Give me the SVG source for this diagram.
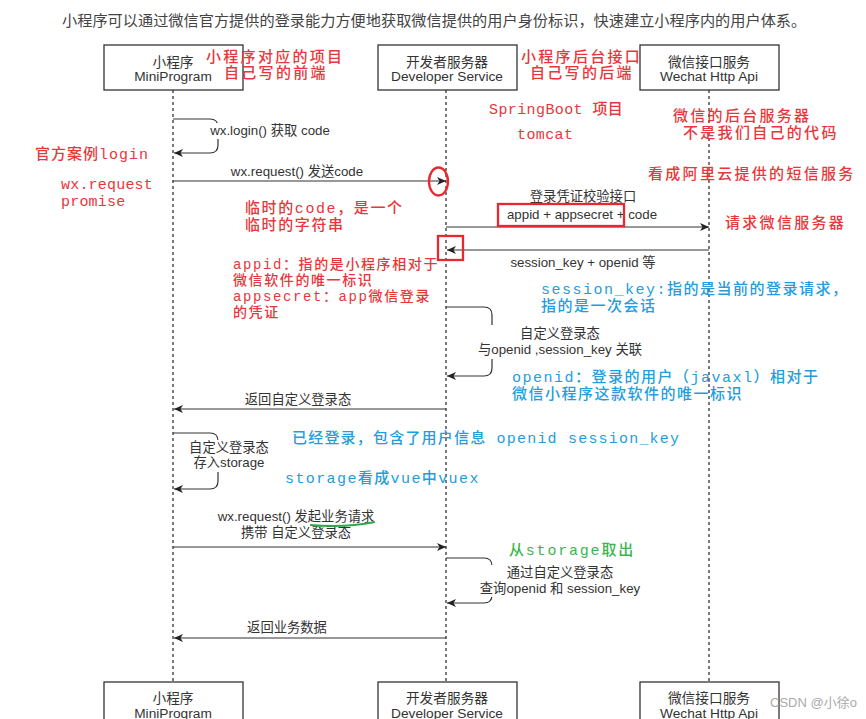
<svg xmlns="http://www.w3.org/2000/svg" width="866" height="719" viewBox="0 0 866 719">
<defs>
<marker id="arr" markerUnits="userSpaceOnUse" markerWidth="10" markerHeight="8" refX="9" refY="4" orient="auto">
<path d="M0,0 L9,4 L0,8 L2.5,4 z" fill="#222"/>
</marker>
<style>
.box{fill:#fff;stroke:#333;stroke-width:1.3}
.bt{font-family:"Liberation Sans","Noto Sans CJK SC",sans-serif;font-size:13.7px;fill:#333;text-anchor:middle}
.life{stroke:#222;stroke-width:1.2;stroke-dasharray:3,3;fill:none}
.msg{stroke:#333;stroke-width:1.2;fill:none;marker-end:url(#arr)}
.lbl{font-family:"Liberation Sans","Noto Sans CJK SC",sans-serif;font-size:13.3px;fill:#333;text-anchor:middle}
.bg{fill:#fff}
.ann{font-family:"Liberation Mono","Noto Sans CJK SC",monospace;font-size:15px;letter-spacing:2.3px;font-weight:500}
.sm{font-size:14px;letter-spacing:1.6px}
.red{fill:#e8373c}
.blue{fill:#249ddc}
.green{fill:#3cb550}
.mark{fill:none;stroke:#e8282e;stroke-width:2.3}
</style>
</defs>
<rect width="866" height="719" fill="#fff"/>
<text x="62" y="26" font-family="'Noto Sans CJK SC',sans-serif" font-size="15.2" fill="#444">小程序可以通过微信官方提供的登录能力方便地获取微信提供的用户身份标识，快速建立小程序内的用户体系。</text>

<g id="lifelines">
<line class="life" x1="173" y1="90" x2="173" y2="682"/>
<line class="life" x1="446" y1="90" x2="446" y2="682"/>
<line class="life" x1="709" y1="90" x2="709" y2="682"/>
</g>

<g id="node-mini-top"><rect class="box" x="104" y="45" width="139" height="45"/><text class="bt"><tspan x="173" y="66.5">小程序</tspan><tspan x="173" y="80.5">MiniProgram</tspan></text></g>
<g id="node-dev-top"><rect class="box" x="378" y="45" width="139" height="45"/><text class="bt"><tspan x="447" y="66.5">开发者服务器</tspan><tspan x="447" y="80.5">Developer Service</tspan></text></g>
<g id="node-wx-top"><rect class="box" x="640" y="45" width="139" height="45"/><text class="bt"><tspan x="709" y="66.5">微信接口服务</tspan><tspan x="709" y="80.5">Wechat Http Api</tspan></text></g>
<g id="node-mini-bot"><rect class="box" x="104" y="682" width="139" height="45"/><text class="bt"><tspan x="173" y="703">小程序</tspan><tspan x="173" y="717.5">MiniProgram</tspan></text></g>
<g id="node-dev-bot"><rect class="box" x="378" y="682" width="139" height="45"/><text class="bt"><tspan x="447" y="703">开发者服务器</tspan><tspan x="447" y="717.5">Developer Service</tspan></text></g>
<g id="node-wx-bot"><rect class="box" x="640" y="682" width="139" height="45"/><text class="bt"><tspan x="709" y="703">微信接口服务</tspan><tspan x="709" y="717.5">Wechat Http Api</tspan></text></g>

<g id="connectors">
<path class="msg" d="M173,119 H210 Q218,119 218,127 V145 Q218,153 210,153 H174"/>
<rect class="bg" x="206" y="123" width="128" height="16"/>
<text class="lbl" x="270" y="135">wx.login() 获取 code</text>

<path class="msg" d="M173,181 H446"/>
<text class="lbl" x="297" y="176">wx.request() 发送code</text>

<path class="msg" d="M446,227 H709"/>
<text class="lbl"><tspan x="583" y="201">登录凭证校验接口</tspan><tspan x="582" y="219">appid + appsecret + code</tspan></text>

<path class="msg" d="M709,250 H447"/>
<text class="lbl" x="583" y="267">session_key + openid 等</text>

<path class="msg" d="M446,307 H484 Q492,307 492,315 V368 Q492,376 484,376 H447"/>
<rect class="bg" x="474" y="325" width="172" height="34"/>
<text class="lbl"><tspan x="560" y="338">自定义登录态</tspan><tspan x="560" y="354">与openid ,session_key 关联</tspan></text>

<path class="msg" d="M446,409 H174"/>
<text class="lbl" x="298" y="404">返回自定义登录态</text>

<path class="msg" d="M173,433 H210 Q218,433 218,441 V481 Q218,489 210,489 H174"/>
<rect class="bg" x="186" y="440" width="86" height="32"/>
<text class="lbl"><tspan x="229" y="452">自定义登录态</tspan><tspan x="229" y="467">存入storage</tspan></text>

<path class="msg" d="M173,547 H446"/>
<text class="lbl"><tspan x="296" y="521">wx.request() 发起业务请求</tspan><tspan x="296" y="537">携带 自定义登录态</tspan></text>

<path class="msg" d="M446,558 H484 Q492,558 492,566 V595 Q492,603 484,603 H447"/>
<rect class="bg" x="474" y="565" width="172" height="32"/>
<text class="lbl"><tspan x="560" y="577">通过自定义登录态</tspan><tspan x="560" y="593">查询openid 和 session_key</tspan></text>

<path class="msg" d="M446,638 H174"/>
<text class="lbl" x="287" y="632">返回业务数据</text>
</g>

<g id="annotations">
<text class="ann red"><tspan x="206" y="62">小程序对应的项目</tspan><tspan x="224" y="78">自己写的前端</tspan></text>
<text class="ann red"><tspan x="521" y="62">小程序后台接口</tspan><tspan x="530" y="78">自己写的后端</tspan></text>
<text class="ann red" style="letter-spacing:0.4px"><tspan x="489" y="114">SpringBoot 项目</tspan><tspan x="517" y="139">tomcat</tspan></text>
<text class="ann red"><tspan x="673" y="121">微信的后台服务器</tspan><tspan x="683" y="138">不是我们自己的代码</tspan></text>
<text class="ann red" x="35" y="159" style="letter-spacing:1px">官方案例login</text>
<text class="ann red" x="648" y="179">看成阿里云提供的短信服务</text>
<text class="ann red" style="letter-spacing:0.2px"><tspan x="61" y="189">wx.request</tspan><tspan x="61" y="206">promise</tspan></text>
<text class="ann red" style="letter-spacing:1.6px"><tspan x="245" y="213">临时的code，是一个</tspan><tspan x="245" y="230">临时的字符串</tspan></text>
<text class="ann red" x="725" y="228">请求微信服务器</text>
<text class="ann red sm"><tspan x="233" y="269">appid：指的是小程序相对于</tspan><tspan x="233" y="285">微信软件的唯一标识</tspan><tspan x="233" y="301">appsecret：app微信登录</tspan><tspan x="233" y="317">的凭证</tspan></text>
<text class="ann blue" style="letter-spacing:1.5px"><tspan x="541" y="294">session_key:指的是当前的登录请求，</tspan><tspan x="541" y="311">指的是一次会话</tspan></text>
<text class="ann blue" style="letter-spacing:1.5px"><tspan x="512" y="382">openid：登录的用户（javaxl）相对于</tspan><tspan x="512" y="399">微信小程序这款软件的唯一标识</tspan></text>
<text class="ann blue" x="292" y="443" style="letter-spacing:1.2px">已经登录，包含了用户信息 openid session_key</text>
<text class="ann blue" x="285" y="483" style="letter-spacing:1.4px">storage看成vue中vuex</text>
<text class="ann green" x="509" y="555" style="letter-spacing:1.8px">从storage取出</text>
<ellipse class="mark" cx="438.5" cy="181.5" rx="9.5" ry="14"/>
<rect class="mark" x="438" y="236" width="25" height="24"/>
<rect class="mark" x="498" y="204" width="126" height="22"/>
<path d="M310,525 Q345,528 375,522" fill="none" stroke="#2fa84a" stroke-width="1.8"/>
<text x="770" y="707" font-family="'Liberation Sans','Noto Sans CJK SC',sans-serif" font-size="13" fill="#aaa">CSDN @小徐o</text>
</g>
</svg>
